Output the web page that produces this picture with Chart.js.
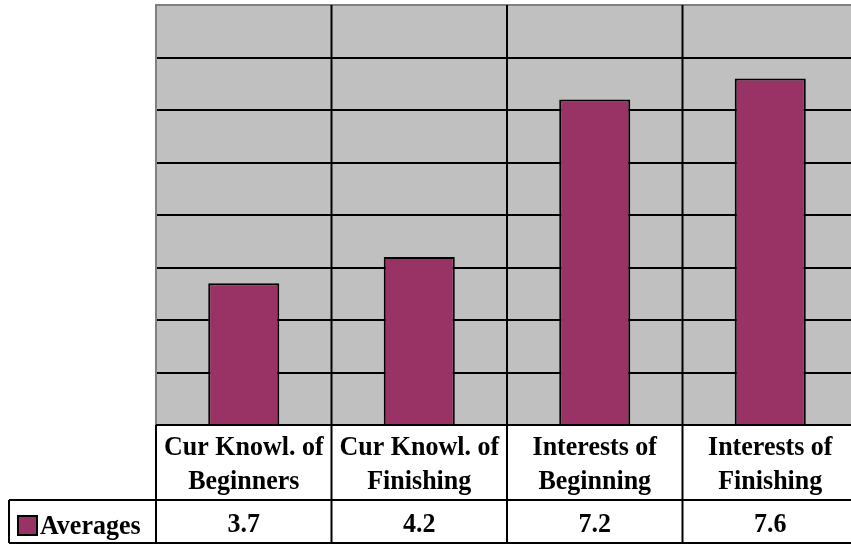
<!DOCTYPE html>
<html>
<head>
<meta charset="utf-8">
<script src="https://cdn.jsdelivr.net/npm/chart.js@4/dist/chart.umd.min.js"></script>
<style>
  html, body { margin: 0; padding: 0; background: #ffffff; overflow: hidden; }
  #wrap { width: 860px; height: 545px; }
</style>
</head>
<body>
<div id="wrap"><canvas id="chart" width="860" height="545"></canvas></div>
<script>
// Category labels (two lines each), series name and averages
const categories = [
  ["Cur Knowl. of", "Beginners"],
  ["Cur Knowl. of", "Finishing"],
  ["Interests of", "Beginning"],
  ["Interests of", "Finishing"]
];
const seriesName = "Averages";
const averages = [3.7, 4.2, 7.2, 7.6];
const valueLabels = ["3.7", "4.2", "7.2", "7.6"];

const BAR_COLOR = "#993366";
const PLOT_BG = "#C0C0C0";
const FONT = "bold 26px 'Liberation Serif', 'Times New Roman', serif";
const TEXT_STRETCH = 1.06;

// Grey plot area fill and its top/left frame
const plotBackground = {
  id: "plotBackground",
  beforeDraw(chart) {
    const { ctx, chartArea: a } = chart;
    ctx.save();
    ctx.fillStyle = PLOT_BG;
    ctx.fillRect(a.left, a.top, a.right - a.left, a.bottom - a.top);
    ctx.restore();
  },
  afterDraw(chart) {
    const { ctx, chartArea: a } = chart;
    ctx.save();
    ctx.strokeStyle = "#808080";
    ctx.lineWidth = 2;
    ctx.beginPath();
    ctx.moveTo(a.left, a.bottom);
    ctx.lineTo(a.left, a.top);
    ctx.lineTo(a.right, a.top);
    ctx.stroke();
    ctx.restore();
  }
};

// Text drawn slightly taller than its natural proportions, anchored on the baseline
function tallText(ctx, text, x, baseline) {
  ctx.save();
  ctx.translate(x, baseline);
  ctx.scale(1, TEXT_STRETCH);
  ctx.fillText(text, 0, 0);
  ctx.restore();
}

// Data table under the plot: category names row, then the series row with its key
const dataTable = {
  id: "dataTable",
  afterDraw(chart) {
    const { ctx, chartArea: a } = chart;
    const xs = chart.scales.x;
    const n = categories.length;
    const bounds = [];
    for (let i = 0; i <= n; i++) {
      bounds.push(xs.getPixelForValue(i - 0.5));
    }
    const row1Top = a.bottom;
    const row2Top = a.bottom + 75;
    const tableBottom = a.bottom + 118;
    const legendLeft = 9;

    ctx.save();
    ctx.fillStyle = "#ffffff";
    ctx.fillRect(bounds[0], row1Top, bounds[n] - bounds[0], tableBottom - row1Top);
    ctx.fillRect(legendLeft, row2Top, bounds[0] - legendLeft, tableBottom - row2Top);

    ctx.strokeStyle = "#000000";
    ctx.lineWidth = 2;
    ctx.beginPath();
    // horizontal rules
    ctx.moveTo(bounds[0], row1Top); ctx.lineTo(bounds[n], row1Top);
    ctx.moveTo(legendLeft, row2Top); ctx.lineTo(bounds[n], row2Top);
    ctx.moveTo(legendLeft, tableBottom); ctx.lineTo(bounds[n], tableBottom);
    // category dividers through plot and table
    for (let i = 1; i < n; i++) {
      ctx.moveTo(bounds[i], a.top); ctx.lineTo(bounds[i], tableBottom);
    }
    ctx.moveTo(bounds[0], row1Top); ctx.lineTo(bounds[0], tableBottom);
    ctx.moveTo(legendLeft, row2Top); ctx.lineTo(legendLeft, tableBottom);
    ctx.stroke();

    ctx.fillStyle = "#000000";
    ctx.font = FONT;
    ctx.textAlign = "center";
    ctx.textBaseline = "alphabetic";
    for (let i = 0; i < n; i++) {
      const cx = (bounds[i] + bounds[i + 1]) / 2;
      tallText(ctx, categories[i][0], cx, row1Top + 30);
      tallText(ctx, categories[i][1], cx, row1Top + 64);
      tallText(ctx, valueLabels[i], cx, row2Top + 32);
    }

    // legend key and series name
    ctx.fillStyle = BAR_COLOR;
    ctx.fillRect(18, row2Top + 16, 19, 19);
    ctx.lineWidth = 2;
    ctx.strokeRect(18, row2Top + 16, 19, 19);
    ctx.fillStyle = "#000000";
    ctx.textAlign = "left";
    tallText(ctx, seriesName, 40, row2Top + 34);
    ctx.restore();
  }
};

new Chart(document.getElementById("chart"), {
  type: "bar",
  data: {
    labels: categories,
    datasets: [{
      label: seriesName,
      data: averages,
      backgroundColor: BAR_COLOR,
      borderColor: "#000000",
      borderWidth: 2,
      borderSkipped: "bottom",
      categoryPercentage: 1.0,
      barPercentage: 0.405
    }]
  },
  options: {
    responsive: false,
    devicePixelRatio: 1,
    animation: false,
    layout: { padding: { left: 156, top: 5, right: 2, bottom: 120 } },
    plugins: { legend: { display: false }, tooltip: { enabled: false } },
    scales: {
      x: {
        display: true,
        ticks: { display: false },
        grid: { display: false, drawTicks: false },
        border: { display: false }
      },
      y: {
        display: true,
        min: 1,
        max: 9,
        ticks: { display: false, stepSize: 1 },
        grid: {
          drawTicks: false,
          lineWidth: 2,
          color: (c) => (c.tick && (c.tick.value === 1 || c.tick.value === 9)) ? "rgba(0,0,0,0)" : "#000000"
        },
        border: { display: false }
      }
    }
  },
  plugins: [plotBackground, dataTable]
});
</script>
</body>
</html>
